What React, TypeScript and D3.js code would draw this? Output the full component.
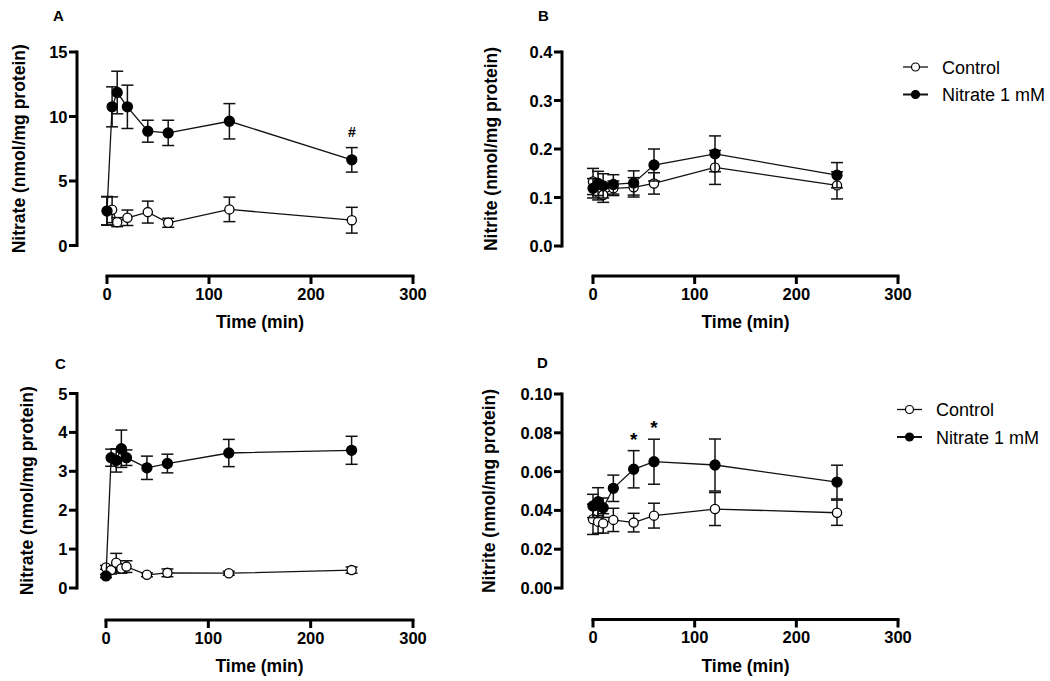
import React from "react";
import * as d3 from "d3";

// sampling times (min)
const times = [0, 5, 10, 20, 40, 60, 120, 240];
const timesC = [0, 5, 10, 15, 20, 40, 60, 120, 240];

// A - nitrate, first experiment
const ctrlA = [2.7, 2.77, 1.81, 2.15, 2.59, 1.76, 2.8, 1.96];
const ctrlAErr = [1.1, 1.0, 0.35, 0.6, 0.85, 0.35, 0.95, 1.0];
const nitA = [2.67, 10.75, 11.86, 10.75, 8.86, 8.73, 9.63, 6.64];
const nitAErr = [1.1, 1.55, 1.65, 1.68, 0.85, 0.98, 1.37, 0.95];

// B - nitrite
const ctrlB = [0.133, 0.11, 0.105, 0.119, 0.121, 0.129, 0.162, 0.125];
const ctrlBErr = [0.027, 0.015, 0.015, 0.015, 0.02, 0.022, 0.035, 0.028];
const nitB = [0.119, 0.129, 0.124, 0.127, 0.13, 0.167, 0.19, 0.146];
const nitBErr = [0.02, 0.025, 0.025, 0.02, 0.025, 0.033, 0.037, 0.026];

// C - nitrate, second experiment
const ctrlC = [0.53, 0.46, 0.65, 0.5, 0.55, 0.34, 0.39, 0.38, 0.46];
const ctrlCErr = [0.05, 0.1, 0.24, 0.12, 0.15, 0.05, 0.1, 0.05, 0.08];
const nitC = [0.31, 3.35, 3.28, 3.58, 3.35, 3.09, 3.2, 3.47, 3.54];
const nitCErr = [0.04, 0.22, 0.3, 0.48, 0.2, 0.3, 0.24, 0.35, 0.36];

// D - nitrite
const ctrlD = [0.0354, 0.0342, 0.0333, 0.0351, 0.0337, 0.0373, 0.0407, 0.0388];
const ctrlDErr = [0.0078, 0.006, 0.005, 0.006, 0.0048, 0.0064, 0.0085, 0.0065];
const nitD = [0.0423, 0.0445, 0.0414, 0.0514, 0.0612, 0.0651, 0.0634, 0.0546];
const nitDErr = [0.006, 0.0072, 0.005, 0.0068, 0.0096, 0.0116, 0.0134, 0.0087];

const xTicks = [0, 100, 200, 300];
const yTicksA = [0, 5, 10, 15];
const yTicksB = [0, 0.1, 0.2, 0.3, 0.4];
const yTicksC = [0, 1, 2, 3, 4, 5];
const yTicksD = [0, 0.02, 0.04, 0.06, 0.08, 0.1];

const seriesNames = ["Control", "Nitrate 1 mM"];

const FONT = "'Liberation Sans', Arial, Helvetica, sans-serif";

const panels = [
  {
    letter: "A", label: "Nitrate (nmol/mg protein)", t: times,
    ctrl: ctrlA, ctrlErr: ctrlAErr, nit: nitA, nitErr: nitAErr,
    yTicks: yTicksA, fmt: d3.format("d"), marks: [{ i: 7, s: "#" }],
    axX: 77, yTop: 52, yBot: 245.5, axY: 276, x0: 107, x1: 413, labX: 19, lx: 53, ly: 20.5,
  },
  {
    letter: "B", label: "Nitrite (nmol/mg protein)", t: times,
    ctrl: ctrlB, ctrlErr: ctrlBErr, nit: nitB, nitErr: nitBErr,
    yTicks: yTicksB, fmt: d3.format(".1f"), marks: [],
    axX: 562, yTop: 52, yBot: 246, axY: 276, x0: 593, x1: 898, labX: 491, lx: 538, ly: 20.5,
  },
  {
    letter: "C", label: "Nitrate (nmol/mg protein)", t: timesC,
    ctrl: ctrlC, ctrlErr: ctrlCErr, nit: nitC, nitErr: nitCErr,
    yTicks: yTicksC, fmt: d3.format("d"), marks: [],
    axX: 77, yTop: 393.5, yBot: 588, axY: 620, x0: 106, x1: 413, labX: 27, lx: 55, ly: 369,
  },
  {
    letter: "D", label: "Nitrite (nmol/mg protein)", t: times,
    ctrl: ctrlD, ctrlErr: ctrlDErr, nit: nitD, nitErr: nitDErr,
    yTicks: yTicksD, fmt: d3.format(".2f"), marks: [{ i: 4, s: "*" }, { i: 5, s: "*" }],
    axX: 562, yTop: 394, yBot: 588, axY: 619.5, x0: 593, x1: 898, labX: 489, lx: 537, ly: 368,
  },
];

const Series = ({ t, v, e, x, y, filled }) => {
  const line = d3.line<number>().x((d, i) => x(t[i])).y(d => y(d));
  return (
    <g>
      <path d={line(v) || ""} fill="none" stroke="#111" strokeWidth={1.3} />
      {v.map((d, i) => {
        const cx = x(t[i]);
        const hi = y(d + e[i]);
        const lo = y(d - e[i]);
        return (
          <g key={"e" + i} stroke="#111" strokeWidth={1.5}>
            <line x1={cx} x2={cx} y1={hi} y2={lo} />
            <line x1={cx - 6} x2={cx + 6} y1={hi} y2={hi} />
            <line x1={cx - 6} x2={cx + 6} y1={lo} y2={lo} />
          </g>
        );
      })}
      {v.map((d, i) => (
        <circle
          key={"c" + i}
          cx={x(t[i])}
          cy={y(d)}
          r={filled ? 5 : 4.6}
          fill={filled ? "#000" : "#fff"}
          stroke="#000"
          strokeWidth={1.3}
        />
      ))}
    </g>
  );
};

const Panel = ({ p }) => {
  const x = d3.scaleLinear().domain([0, 300]).range([p.x0, p.x1]);
  const yMax = p.yTicks[p.yTicks.length - 1];
  const y = d3.scaleLinear().domain([0, yMax]).range([p.yBot, p.yTop]);
  const labY = (p.yTop + p.yBot) / 2;

  return (
    <g fontFamily={FONT}>
      <text x={p.lx} y={p.ly} fontSize={15} fontWeight="bold">{p.letter}</text>

      {/* y axis */}
      <line x1={p.axX} x2={p.axX} y1={p.yTop - 1.5} y2={p.yBot + 1.5} stroke="#000" strokeWidth={3} />
      {p.yTicks.map(d => (
        <g key={"y" + d}>
          <line x1={p.axX - 8} x2={p.axX} y1={y(d)} y2={y(d)} stroke="#000" strokeWidth={3} />
          <text x={p.axX - 9.5} y={y(d) + 6} textAnchor="end" fontSize={16.5} fontWeight="bold">
            {p.fmt(d)}
          </text>
        </g>
      ))}
      <text
        transform={`translate(${p.labX + 6},${labY}) rotate(-90)`}
        textAnchor="middle"
        fontSize={17.5}
        fontWeight="bold"
      >
        {p.label}
      </text>

      {/* x axis */}
      <line x1={x(0) - 1.5} x2={x(300) + 1.5} y1={p.axY} y2={p.axY} stroke="#000" strokeWidth={3} />
      {xTicks.map(d => (
        <g key={"x" + d}>
          <line x1={x(d)} x2={x(d)} y1={p.axY} y2={p.axY + 8} stroke="#000" strokeWidth={3} />
          <text x={x(d)} y={p.axY + 23.5} textAnchor="middle" fontSize={16.5} fontWeight="bold">
            {d}
          </text>
        </g>
      ))}
      <text x={(x(0) + x(300)) / 2} y={p.axY + 52} textAnchor="middle" fontSize={17.5} fontWeight="bold">
        Time (min)
      </text>

      <Series t={p.t} v={p.ctrl} e={p.ctrlErr} x={x} y={y} filled={false} />
      <Series t={p.t} v={p.nit} e={p.nitErr} x={x} y={y} filled={true} />

      {p.marks.map(m => {
        const top = y(p.nit[m.i] + p.nitErr[m.i]) - 16;
        return (
          <text
            key={"m" + m.i}
            x={x(p.t[m.i])}
            y={m.s === "*" ? top + 11 : top + 5}
            textAnchor="middle"
            fontSize={m.s === "*" ? 19 : 14}
            fontWeight="bold"
          >
            {m.s}
          </text>
        );
      })}
    </g>
  );
};

const Legend = ({ lx, ly }) => (
  <g fontFamily={FONT}>
    {seriesNames.map((name, i) => {
      const cy = ly + i * 27.5;
      const filled = i === 1;
      return (
        <g key={name}>
          <line x1={lx} x2={lx + 25} y1={cy} y2={cy} stroke="#111" strokeWidth={filled ? 2 : 1.3} />
          <circle cx={lx + 12.5} cy={cy} r={4} fill={filled ? "#000" : "#fff"} stroke="#000" strokeWidth={1.2} />
          <text x={lx + 39} y={cy + 6.5} fontSize={18}>{name}</text>
        </g>
      );
    })}
  </g>
);

export default function App() {
  return (
    <svg
      width={1050}
      height={681}
      style={{ position: "absolute", left: 0, top: 0, background: "#fff" }}
    >
      <rect width={1050} height={681} fill="#fff" />
      {panels.map(p => <Panel key={p.letter} p={p} />)}
      <Legend lx={903} ly={67} />
      <Legend lx={897} ly={409.5} />
    </svg>
  );
}
